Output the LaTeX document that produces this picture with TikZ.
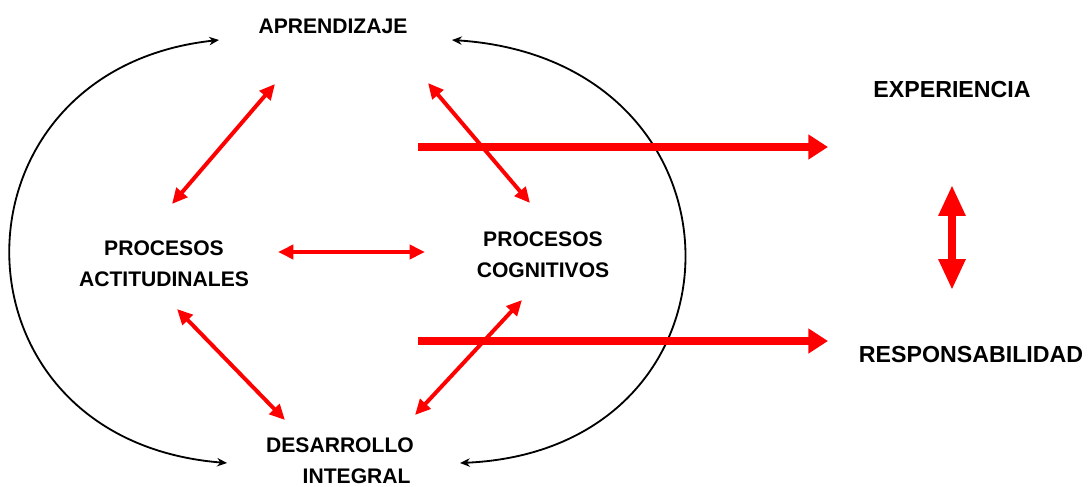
\documentclass[tikz,border=0pt]{standalone}
\usepackage{fontspec}
\setmainfont{Liberation Sans}
\usetikzlibrary{arrows.meta}
\begin{document}
\begin{tikzpicture}[x=0.025cm, y=-0.025cm,
  word/.style={font=\bfseries\fontsize{15}{22}\selectfont, align=center, inner sep=0pt},
  bigword/.style={font=\bfseries\fontsize{16.5}{22}\selectfont, inner sep=0pt},
  redlink/.style={red, line width=2.8pt, {Triangle[length=11pt,width=10pt]}-{Triangle[length=11pt,width=10pt]}},
  flow/.style={red, line width=5.7pt, -{Triangle[length=14pt,width=17pt]}},
  swap/.style={red, line width=5.7pt, {Triangle[length=22pt,width=18pt]}-{Triangle[length=22pt,width=18pt]}},
  ring/.style={black, line width=1.3pt, {Stealth[length=7pt,width=6pt]}-{Stealth[length=7pt,width=6pt]}}]
% Set the frame size (1 unit = 1 pixel)
\useasboundingbox (0,0) rectangle (1088,487);

% Place the labels
\node[word] (aprend) at (333,26) {APRENDIZAJE};
\node[word] (actit) at (164,264) {PROCESOS\\ACTITUDINALES};
\node[word] (cognit) at (543,255) {PROCESOS\\COGNITIVOS};
\node[word, align=left] (desarr) at (340,461) {DESARROLLO\\\hspace*{26pt}INTEGRAL};
\node[bigword] (exper) at (952,90) {EXPERIENCIA};
\node[bigword] (respons) at (971,355) {RESPONSABILIDAD};

% Draw the outer loops
\draw[ring] ([shift={(-114,14)}]aprend.center) .. controls +(-279,30) and +(-287,-23) .. ([shift={(-113,2)}]desarr.center);
\draw[ring] ([shift={(119,14)}]aprend.center) .. controls +(308,20) and +(300,-13) .. ([shift={(120,2)}]desarr.center);

% Draw the red links
\draw[redlink] ([shift={(-58,58)}]aprend.center) -- ([shift={(8,-60)}]actit.center);
\draw[redlink] ([shift={(95,57)}]aprend.center) -- ([shift={(-13,-52)}]cognit.center);
\draw[redlink] ([shift={(114,-12)}]actit.center) -- ([shift={(-118,-3)}]cognit.center);
\draw[redlink] ([shift={(13,45)}]actit.center) -- ([shift={(-55,-41)}]desarr.center);
\draw[redlink] ([shift={(-21,45)}]cognit.center) -- ([shift={(75,-46)}]desarr.center);

% Draw the big arrows
\coordinate (out1) at (418,147);
\coordinate (out2) at (418,341);
\draw[flow] (out1) -- ([shift={(-124,57)}]exper.center);
\draw[flow] (out2) -- ([shift={(-143,-14)}]respons.center);
\draw[swap] ([shift={(0,95)}]exper.center) -- ([shift={(-19,-65)}]respons.center);
\end{tikzpicture}
\end{document}
